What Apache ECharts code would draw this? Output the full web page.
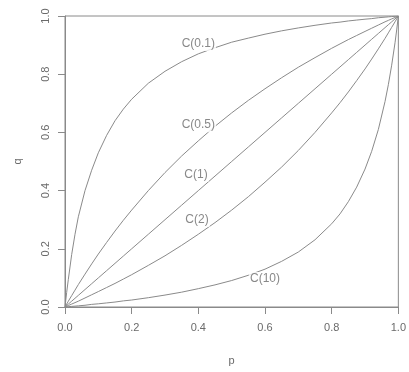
<!DOCTYPE html>
<html>
<head>
<meta charset="utf-8">
<script src="https://cdn.jsdelivr.net/npm/echarts@6/dist/echarts.min.js"></script>
<style>
  html, body { margin: 0; padding: 0; background: #fff; }
  #main { width: 409px; height: 372px; }
</style>
</head>
<body>
<div id="main"></div>
<script>
// p values shared by every curve
var pVals = [0, 0.005, 0.01, 0.02, 0.03, 0.04, 0.06, 0.08, 0.1, 0.125, 0.15, 0.175, 0.2,
             0.25, 0.3, 0.35, 0.4, 0.45, 0.5, 0.55, 0.6, 0.65, 0.7, 0.75, 0.8,
             0.825, 0.85, 0.875, 0.9, 0.92, 0.94, 0.96, 0.97, 0.98, 0.99, 0.995, 1];

// q for each curve
var qC01 = [0, 0.05, 0.095, 0.18, 0.25, 0.31, 0.40, 0.47, 0.53, 0.59, 0.64, 0.68, 0.714,
            0.769, 0.81, 0.843, 0.87, 0.891, 0.91, 0.924, 0.9375, 0.949, 0.959, 0.968, 0.976,
            0.979, 0.983, 0.986, 0.989, 0.991, 0.994, 0.996, 0.997, 0.998, 0.999, 0.9995, 1];
var qC05 = [0, 0.01, 0.02, 0.039, 0.058, 0.077, 0.113, 0.148, 0.182, 0.222, 0.261, 0.298, 0.333,
            0.40, 0.462, 0.519, 0.571, 0.621, 0.667, 0.71, 0.75, 0.788, 0.824, 0.857, 0.889,
            0.904, 0.919, 0.933, 0.947, 0.958, 0.969, 0.98, 0.985, 0.99, 0.995, 0.9975, 1];
var qC1  = [0, 0.005, 0.01, 0.02, 0.03, 0.04, 0.06, 0.08, 0.1, 0.125, 0.15, 0.175, 0.2,
            0.25, 0.3, 0.35, 0.4, 0.45, 0.5, 0.55, 0.6, 0.65, 0.7, 0.75, 0.8,
            0.825, 0.85, 0.875, 0.9, 0.92, 0.94, 0.96, 0.97, 0.98, 0.99, 0.995, 1];
var qC2  = [0, 0.0025, 0.005, 0.01, 0.015, 0.02, 0.031, 0.042, 0.053, 0.067, 0.081, 0.096, 0.111,
            0.143, 0.176, 0.212, 0.25, 0.29, 0.333, 0.379, 0.429, 0.481, 0.538, 0.60, 0.667,
            0.702, 0.739, 0.778, 0.818, 0.852, 0.887, 0.923, 0.942, 0.961, 0.98, 0.99, 1];
var qC10 = [0, 0.0005, 0.001, 0.002, 0.003, 0.004, 0.006, 0.009, 0.011, 0.014, 0.017, 0.021, 0.024,
            0.032, 0.041, 0.051, 0.063, 0.076, 0.091, 0.109, 0.13, 0.157, 0.189, 0.231, 0.286,
            0.32, 0.362, 0.412, 0.474, 0.535, 0.61, 0.706, 0.764, 0.831, 0.908, 0.952, 1];

// curve labels and where they sit
var labelNames = ['C(0.1)', 'C(0.5)', 'C(1)', 'C(2)', 'C(10)'];
var labelP = [0.40, 0.40, 0.393, 0.396, 0.60];
var labelQ = [0.904, 0.625, 0.454, 0.299, 0.096];

var lineColor = '#8a8a8a';
var textColor = '#6a6a6a';

function pairs(xs, ys) {
    var out = [];
    for (var i = 0; i < xs.length; i++) out.push([xs[i], ys[i]]);
    return out;
}

function curve(ys) {
    return {
        type: 'line',
        data: pairs(pVals, ys),
        symbol: 'none',
        smooth: false,
        lineStyle: { color: lineColor, width: 1 },
        z: 2
    };
}

var labelData = [];
for (var i = 0; i < labelNames.length; i++) {
    labelData.push({ value: [labelP[i], labelQ[i]], name: labelNames[i] });
}

var myChart = echarts.init(document.getElementById('main'));

var axisCommon = {
    min: 0,
    max: 1,
    interval: 0.2,
    splitLine: { show: false },
    axisLine: { show: true, lineStyle: { color: lineColor, width: 1 } },
    axisTick: { show: true, length: 7, lineStyle: { color: lineColor } },
    nameTextStyle: { color: textColor, fontSize: 11, fontFamily: 'Liberation Sans' }
};

var option = {
    animation: false,
    backgroundColor: '#fff',
    grid: {
        left: 65, right: 6, top: 16, bottom: 65,
        show: true, borderColor: lineColor, borderWidth: 1
    },
    xAxis: Object.assign({}, axisCommon, {
        type: 'value',
        name: 'p',
        nameLocation: 'middle',
        nameGap: 48,
        axisLabel: {
            margin: 15, color: textColor, fontSize: 11, fontFamily: 'Liberation Sans',
            formatter: function (v) { return v.toFixed(1); }
        }
    }),
    yAxis: Object.assign({}, axisCommon, {
        type: 'value',
        name: 'q',
        nameLocation: 'middle',
        nameGap: 42,
        nameRotate: 90,
        axisLabel: {
            margin: 14, rotate: 90, color: textColor, fontSize: 11, fontFamily: 'Liberation Sans',
            formatter: function (v) { return v.toFixed(1); }
        }
    }),
    series: [
        curve(qC01),
        curve(qC05),
        curve(qC1),
        curve(qC2),
        curve(qC10),
        {
            type: 'scatter',
            data: labelData,
            symbolSize: 1,
            itemStyle: { color: 'rgba(0,0,0,0)' },
            z: 5,
            label: {
                show: true,
                position: 'inside',
                formatter: '{b}',
                color: textColor,
                fontSize: 12,
                fontFamily: 'Liberation Sans',
                backgroundColor: '#fff',
                padding: [1, 1]
            }
        }
    ]
};

myChart.setOption(option);
</script>
</body>
</html>
